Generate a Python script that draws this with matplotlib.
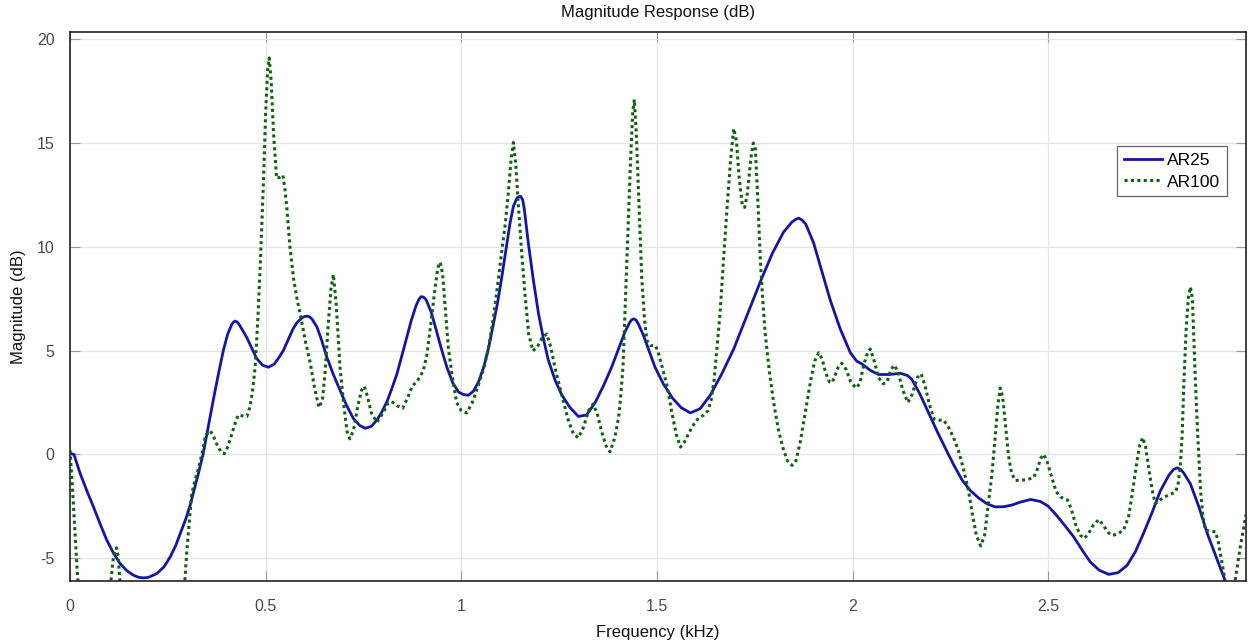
import numpy as np
import matplotlib.pyplot as plt

plt.rcParams['font.family'] = ['Liberation Sans', 'DejaVu Sans']
plt.rcParams['axes.unicode_minus'] = False

# AR(25) model spectrum
f_ar25 = [0.000, 0.010, 0.026, 0.043, 0.060, 0.077, 0.094, 0.111, 0.128, 0.145,
          0.162, 0.175, 0.187, 0.200, 0.222, 0.240, 0.256, 0.270, 0.285, 0.296,
          0.307, 0.318, 0.329, 0.340, 0.353, 0.366, 0.379, 0.392, 0.403, 0.413,
          0.418, 0.422, 0.427, 0.431, 0.442, 0.452, 0.465, 0.477, 0.492, 0.507, 0.522, 0.535,
          0.545, 0.558, 0.570, 0.580, 0.594, 0.601, 0.607, 0.613, 0.619, 0.631, 0.643, 0.656,
          0.673, 0.690, 0.707, 0.724, 0.740, 0.754, 0.770, 0.784, 0.797, 0.810,
          0.822, 0.835, 0.848, 0.860, 0.872, 0.884, 0.891, 0.897, 0.903, 0.910, 0.923, 0.935,
          0.948, 0.963, 0.978, 0.993, 1.006, 1.018, 1.031, 1.044, 1.057, 1.069,
          1.080, 1.092, 1.103, 1.114, 1.124, 1.133, 1.142, 1.147, 1.152, 1.157, 1.161, 1.171,
          1.184, 1.197, 1.210, 1.222, 1.240, 1.257, 1.278, 1.299, 1.320, 1.342,
          1.363, 1.384, 1.402, 1.418, 1.430, 1.435, 1.440, 1.446, 1.452, 1.465, 1.478, 1.495,
          1.517, 1.540, 1.562, 1.585, 1.610, 1.636, 1.666, 1.696, 1.730, 1.764,
          1.795, 1.823, 1.845, 1.855, 1.862, 1.870, 1.880, 1.900, 1.920, 1.942, 1.968, 1.994,
          2.010, 2.024, 2.045, 2.066, 2.094, 2.122, 2.140, 2.151, 2.172, 2.194,
          2.216, 2.237, 2.258, 2.280, 2.301, 2.322, 2.343, 2.364, 2.386, 2.407,
          2.428, 2.455, 2.480, 2.500, 2.522, 2.543, 2.565, 2.586, 2.607, 2.630,
          2.654, 2.678, 2.701, 2.722, 2.743, 2.765, 2.786, 2.808, 2.820, 2.829, 2.838, 2.846,
          2.863, 2.885, 2.906, 2.929, 2.952, 2.978, 3.005]
db_ar25 = [0.05, 0.00, -0.92, -1.75, -2.53, -3.35, -4.13, -4.75, -5.26, -5.60,
           -5.82, -5.92, -5.95, -5.93, -5.74, -5.42, -4.94, -4.40, -3.65, -3.10,
           -2.45, -1.65, -0.85, 0.00, 1.30, 2.61, 3.85, 5.02, 5.80, 6.25,
           6.38, 6.42, 6.38, 6.30, 5.95, 5.62, 5.10, 4.62, 4.30, 4.20, 4.35, 4.70,
           5.00, 5.55, 6.05, 6.35, 6.60, 6.65, 6.66, 6.62, 6.50, 6.14, 5.50, 4.70,
           3.85, 3.09, 2.35, 1.73, 1.40, 1.26, 1.35, 1.65, 2.05, 2.55,
           3.15, 3.85, 4.75, 5.60, 6.45, 7.15, 7.45, 7.60, 7.58, 7.45, 6.85, 6.05,
           5.15, 4.20, 3.45, 3.00, 2.88, 2.85, 3.05, 3.50, 4.20, 5.08,
           6.10, 7.25, 8.50, 9.85, 11.10, 11.95, 12.35, 12.42, 12.43, 12.25, 11.80, 10.20,
           8.40, 6.80, 5.55, 4.56, 3.55, 2.85, 2.25, 1.83, 1.90, 2.50,
           3.30, 4.20, 5.10, 5.90, 6.35, 6.48, 6.53, 6.48, 6.30, 5.75, 5.08, 4.20,
           3.37, 2.70, 2.25, 2.00, 2.20, 2.85, 3.90, 5.08, 6.70, 8.32,
           9.70, 10.70, 11.20, 11.33, 11.38, 11.30, 11.10, 10.20, 8.90, 7.47, 6.05, 4.90,
           4.50, 4.35, 4.05, 3.85, 3.85, 3.91, 3.80, 3.62, 2.90, 2.00,
           1.10, 0.29, -0.50, -1.25, -1.75, -2.10, -2.38, -2.53, -2.52, -2.44,
           -2.30, -2.17, -2.27, -2.50, -2.96, -3.45, -3.98, -4.60, -5.18, -5.58,
           -5.78, -5.70, -5.35, -4.70, -3.81, -2.80, -1.76, -1.00, -0.72, -0.65, -0.72, -0.90,
           -1.42, -2.55, -3.81, -4.95, -6.10, -7.40, -8.60]

# AR(100) model spectrum
f_ar100 = [0.000, 0.006, 0.012, 0.018, 0.024, 0.040, 0.070, 0.095, 0.104, 0.110,
           0.115, 0.119, 0.123, 0.128, 0.135, 0.160, 0.230, 0.280, 0.292, 0.298,
           0.305, 0.311, 0.320, 0.328, 0.337, 0.345, 0.352, 0.358, 0.366, 0.375,
           0.385, 0.394, 0.403, 0.412, 0.422, 0.430, 0.440, 0.452, 0.460, 0.466,
           0.473, 0.480, 0.487, 0.494, 0.500, 0.505, 0.509, 0.514, 0.520, 0.528,
           0.536, 0.544, 0.549, 0.554, 0.562, 0.571, 0.580, 0.590, 0.602, 0.614,
           0.625, 0.636, 0.645, 0.652, 0.660, 0.667, 0.673, 0.680, 0.690, 0.700,
           0.708, 0.715, 0.725, 0.735, 0.745, 0.752, 0.760, 0.770, 0.784, 0.800,
           0.812, 0.822, 0.835, 0.850, 0.862, 0.875, 0.886, 0.896, 0.903, 0.912,
           0.922, 0.932, 0.940, 0.946, 0.952, 0.960, 0.967, 0.978, 0.988, 1.000,
           1.014, 1.028, 1.044, 1.058, 1.069, 1.082, 1.095, 1.104, 1.112, 1.120,
           1.127, 1.133, 1.139, 1.146, 1.155, 1.163, 1.172, 1.183, 1.195, 1.206,
           1.218, 1.228, 1.239, 1.256, 1.273, 1.286, 1.299, 1.312, 1.325, 1.337,
           1.348, 1.360, 1.370, 1.380, 1.392, 1.402, 1.408, 1.413, 1.418, 1.425,
           1.432, 1.438, 1.442, 1.447, 1.453, 1.461, 1.468, 1.474, 1.483, 1.495,
           1.502, 1.512, 1.525, 1.538, 1.550, 1.560, 1.570, 1.582, 1.594, 1.606,
           1.619, 1.630, 1.638, 1.646, 1.654, 1.661, 1.670, 1.679, 1.688, 1.696,
           1.703, 1.710, 1.718, 1.724, 1.731, 1.740, 1.746, 1.751, 1.757, 1.764,
           1.770, 1.776, 1.787, 1.798, 1.810, 1.822, 1.833, 1.845, 1.855, 1.866,
           1.875, 1.883, 1.893, 1.903, 1.913, 1.922, 1.930, 1.940, 1.947, 1.955,
           1.963, 1.972, 1.983, 1.995, 2.008, 2.018, 2.028, 2.038, 2.045, 2.055,
           2.066, 2.078, 2.088, 2.098, 2.107, 2.117, 2.128, 2.141, 2.152, 2.165,
           2.175, 2.185, 2.196, 2.208, 2.220, 2.232, 2.245, 2.258, 2.270, 2.283,
           2.296, 2.306, 2.316, 2.327, 2.337, 2.346, 2.356, 2.364, 2.371, 2.377,
           2.383, 2.390, 2.398, 2.406, 2.415, 2.430, 2.449, 2.463, 2.472, 2.480,
           2.488, 2.496, 2.507, 2.520, 2.531, 2.542, 2.549, 2.558, 2.570, 2.582,
           2.592, 2.603, 2.615, 2.629, 2.640, 2.652, 2.663, 2.675, 2.692, 2.705,
           2.715, 2.725, 2.733, 2.741, 2.748, 2.756, 2.765, 2.773, 2.785, 2.795,
           2.810, 2.825, 2.831, 2.837, 2.842, 2.846, 2.852, 2.858, 2.863, 2.868,
           2.872, 2.876, 2.882, 2.889, 2.895, 2.901, 2.912, 2.927, 2.934, 2.940,
           2.946, 2.952, 2.960, 2.968, 2.977, 2.990, 3.005]
db_ar100 = [0.20, -1.50, -3.50, -5.50, -7.00, -9.00, -10.5, -8.00, -6.20, -5.10,
            -4.60, -4.50, -4.90, -6.20, -8.00, -11.0, -12.0, -9.00, -6.50, -4.80,
            -3.20, -1.90, -1.20, -0.70, 0.00, 0.80, 1.05, 1.15, 0.90, 0.50,
            0.15, 0.03, 0.35, 0.90, 1.50, 1.90, 1.86, 1.83, 2.30, 3.00,
            4.20, 6.50, 9.50, 13.00, 16.50, 18.50, 19.10, 18.00, 15.50, 13.30,
            13.35, 13.45, 12.80, 11.90, 10.00, 8.50, 7.50, 6.60, 5.40, 4.40,
            3.20, 2.26, 2.60, 4.00, 6.30, 8.00, 8.67, 7.30, 4.20, 2.30,
            1.10, 0.75, 1.20, 2.30, 3.10, 3.28, 2.80, 2.00, 1.55, 2.00,
            2.45, 2.55, 2.35, 2.22, 2.70, 3.30, 3.50, 3.80, 4.05, 4.80,
            6.30, 7.90, 9.00, 9.26, 8.70, 6.80, 5.08, 3.60, 2.50, 2.10,
            2.00, 2.50, 3.37, 4.20, 5.08, 6.60, 8.50, 9.90, 11.06, 12.60,
            14.20, 15.03, 14.00, 11.90, 9.50, 7.64, 5.80, 4.99, 5.20, 5.60,
            5.80, 5.20, 4.20, 2.90, 1.66, 1.00, 0.80, 1.30, 2.10, 2.43,
            1.90, 1.00, 0.40, 0.12, 0.80, 1.80, 3.00, 4.20, 6.80, 10.50,
            14.00, 16.50, 17.10, 15.50, 12.50, 8.50, 6.50, 5.50, 5.25, 5.25,
            5.00, 4.30, 3.37, 2.00, 0.90, 0.35, 0.60, 1.05, 1.45, 1.75,
            1.89, 2.10, 2.60, 3.60, 5.30, 6.80, 9.40, 11.90, 14.20, 15.70,
            15.10, 13.30, 12.00, 11.90, 12.60, 14.30, 15.00, 14.80, 12.50, 9.35,
            7.50, 5.90, 4.00, 2.50, 1.20, 0.30, -0.30, -0.53, -0.30, 0.60,
            1.60, 2.50, 3.60, 4.50, 4.90, 4.60, 4.00, 3.50, 3.45, 3.80,
            4.20, 4.39, 4.10, 3.50, 3.20, 3.40, 4.30, 4.90, 5.08, 4.50,
            3.70, 3.40, 3.50, 4.10, 4.30, 3.90, 3.10, 2.50, 2.90, 3.70,
            3.88, 3.30, 2.40, 1.70, 1.65, 1.66, 1.30, 0.80, 0.20, -0.70,
            -1.76, -2.90, -3.90, -4.41, -3.90, -2.50, -0.90, 0.80, 2.40, 3.20,
            2.80, 1.50, -0.05, -0.90, -1.25, -1.25, -1.20, -1.10, -0.70, -0.20,
            0.00, -0.30, -1.00, -1.80, -2.05, -2.15, -2.20, -2.60, -3.40, -3.90,
            -4.05, -3.80, -3.40, -3.14, -3.40, -3.75, -3.90, -3.85, -3.65, -3.00,
            -1.80, -0.50, 0.40, 0.81, 0.40, -0.60, -1.70, -2.37, -2.20, -2.05,
            -1.95, -1.80, -1.50, -0.60, 1.00, 3.37, 6.00, 7.60, 8.07, 7.50,
            5.50, 3.37, 0.80, -1.76, -3.00, -3.64, -3.70, -3.73, -4.20, -4.84,
            -5.50, -6.10, -6.90, -6.80, -6.10, -4.50, -2.90]

fig = plt.figure(figsize=(12.5, 6.43), dpi=100)
ax = fig.add_axes([0.056, 0.0964, 0.9408, 0.8538])

ax.plot(f_ar25, db_ar25, color='#1414a8', lw=2.0, label='AR25')
ax.plot(f_ar100, db_ar100, color='#0f620f', lw=2.2, ls=(0, (1, 1.1)), label='AR100')

ax.set_xlim(0, 3.005)
ax.set_ylim(-6.1, 20.35)
ax.set_xticks([0, 0.5, 1, 1.5, 2, 2.5])
ax.set_xticklabels(['0', '0.5', '1', '1.5', '2', '2.5'])
ax.set_yticks([-5, 0, 5, 10, 15, 20])

ax.grid(True, color='#e4e4e4', lw=0.9)
ax.set_axisbelow(True)
ax.tick_params(direction='in', length=7, width=0.8, color='#999999',
               top=True, right=True, labelsize=11.5, labelcolor='#4a4a4a')
ax.tick_params(axis='x', pad=13)
ax.tick_params(axis='y', pad=11)
for s in ax.spines.values():
    s.set_color('#222222')
    s.set_linewidth(1.2)

ax.set_title('Magnitude Response (dB)', fontsize=12, color='#111111', pad=11)
ax.set_xlabel('Frequency (kHz)', fontsize=12, color='#111111', labelpad=8)
ax.set_ylabel('Magnitude (dB)', fontsize=12, color='#111111', labelpad=8)

leg = ax.legend(loc='upper right', bbox_to_anchor=(0.984, 0.792), borderaxespad=0,
                fontsize=12.5, handlelength=2.2, handletextpad=0.3, labelspacing=0.35,
                borderpad=0.4, fancybox=False, framealpha=1)
leg.get_frame().set_edgecolor('#666666')
leg.get_frame().set_linewidth(0.9)

fig.savefig('out.png', dpi=100)
